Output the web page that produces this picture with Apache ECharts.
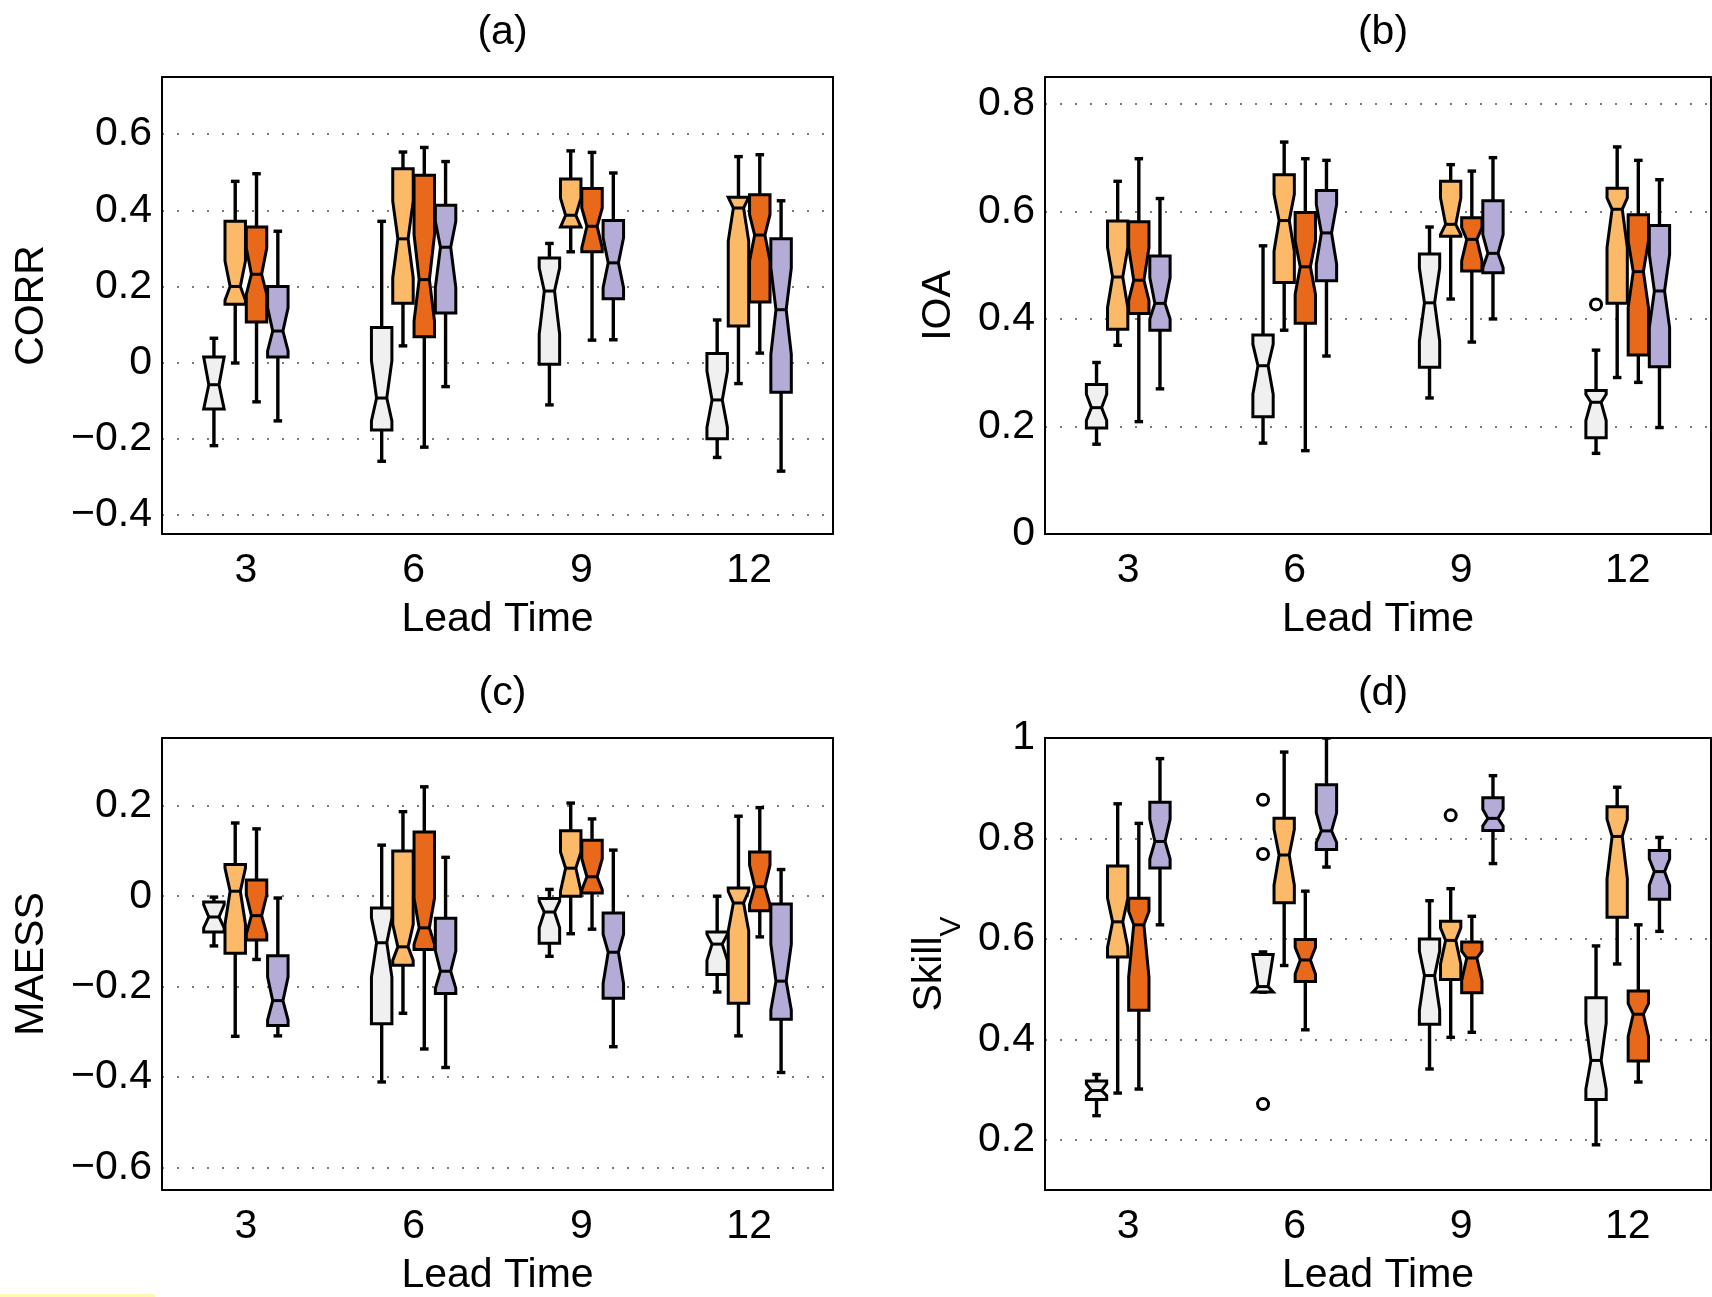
<!DOCTYPE html>
<html>
<head>
<meta charset="utf-8">
<script src="https://cdn.jsdelivr.net/npm/echarts@6/dist/echarts.min.js"></script>
<style>
  html, body { margin: 0; padding: 0; background: #fff; }
  #chart { width: 1712px; height: 1297px; }
</style>
</head>
<body>
<div id="chart"></div>
<script>
const leadTimes = ['3', '6', '9', '12']

// each row: [whiskerLow, q1, notchLow, median, notchHigh, q3, whiskerHigh]
const corrWhite = [[-0.218, -0.122, -0.122, -0.058, 0.015, 0.015, 0.064], [-0.259, -0.177, -0.153, -0.093, 0.005, 0.092, 0.371], [-0.111, -0.004, 0.074, 0.188, 0.249, 0.275, 0.313], [-0.249, -0.2, -0.17, -0.098, -0.022, 0.024, 0.112]]
const corrLight = [[-0.001, 0.153, 0.164, 0.2, 0.267, 0.371, 0.476], [0.044, 0.156, 0.223, 0.325, 0.424, 0.509, 0.553], [0.291, 0.356, 0.356, 0.387, 0.432, 0.482, 0.556], [-0.055, 0.096, 0.319, 0.406, 0.434, 0.434, 0.541]]
const corrDark = [[-0.103, 0.107, 0.179, 0.232, 0.301, 0.356, 0.496], [-0.222, 0.068, 0.109, 0.218, 0.336, 0.492, 0.565], [0.059, 0.291, 0.301, 0.358, 0.406, 0.457, 0.552], [0.025, 0.159, 0.267, 0.335, 0.389, 0.441, 0.546]]
const corrLav = [[-0.153, 0.015, 0.031, 0.083, 0.144, 0.2, 0.345], [-0.063, 0.13, 0.197, 0.303, 0.371, 0.413, 0.528], [0.06, 0.168, 0.197, 0.262, 0.328, 0.373, 0.498], [-0.285, -0.078, 0.022, 0.139, 0.249, 0.325, 0.425]]

const ioaWhite = [[0.167, 0.197, 0.211, 0.235, 0.26, 0.278, 0.319], [0.169, 0.218, 0.26, 0.313, 0.353, 0.37, 0.536], [0.253, 0.31, 0.359, 0.43, 0.495, 0.521, 0.571], [0.15, 0.179, 0.211, 0.245, 0.26, 0.267, 0.342]]
const ioaLight = [[0.351, 0.381, 0.421, 0.478, 0.533, 0.582, 0.656], [0.379, 0.468, 0.526, 0.583, 0.632, 0.668, 0.729], [0.437, 0.554, 0.557, 0.576, 0.625, 0.656, 0.687], [0.291, 0.429, 0.533, 0.604, 0.625, 0.643, 0.72]]
const ioaDark = [[0.209, 0.41, 0.434, 0.472, 0.533, 0.581, 0.698], [0.155, 0.392, 0.446, 0.497, 0.545, 0.598, 0.698], [0.357, 0.489, 0.508, 0.548, 0.57, 0.588, 0.675], [0.282, 0.333, 0.421, 0.488, 0.545, 0.594, 0.695]]
const ioaLav = [[0.27, 0.379, 0.4, 0.429, 0.477, 0.517, 0.624], [0.331, 0.471, 0.502, 0.56, 0.613, 0.639, 0.695], [0.4, 0.486, 0.495, 0.522, 0.557, 0.62, 0.7], [0.198, 0.311, 0.384, 0.452, 0.52, 0.574, 0.659]]

const maessWhite = [[-0.11, -0.079, -0.07, -0.046, -0.019, -0.013, -0.002], [-0.411, -0.282, -0.179, -0.103, -0.048, -0.026, 0.113], [-0.133, -0.104, -0.07, -0.035, -0.011, -0.005, 0.015], [-0.212, -0.173, -0.142, -0.106, -0.084, -0.079, 0]]
const maessLight = [[-0.31, -0.126, -0.062, 0.011, 0.062, 0.07, 0.162], [-0.259, -0.153, -0.142, -0.112, -0.062, 0.1, 0.187], [-0.083, 0, 0.011, 0.062, 0.098, 0.145, 0.206], [-0.309, -0.237, -0.077, -0.015, 0.011, 0.018, 0.177]]
const maessDark = [[-0.14, -0.097, -0.084, -0.043, 0.003, 0.036, 0.149], [-0.338, -0.118, -0.106, -0.07, -0.004, 0.142, 0.242], [-0.073, 0.007, 0.014, 0.043, 0.083, 0.124, 0.171], [-0.09, -0.032, -0.019, 0.021, 0.069, 0.098, 0.196]]
const maessLav = [[-0.309, -0.286, -0.274, -0.231, -0.179, -0.132, -0.004], [-0.379, -0.215, -0.204, -0.166, -0.121, -0.049, 0.086], [-0.333, -0.226, -0.193, -0.124, -0.084, -0.037, 0.102], [-0.39, -0.272, -0.252, -0.188, -0.106, -0.017, 0.059]]

const skillWhite = [[0.248, 0.28, 0.288, 0.298, 0.311, 0.317, 0.33], [0.494, 0.494, 0.494, 0.505, 0.569, 0.569, 0.574], [0.341, 0.43, 0.458, 0.527, 0.576, 0.6, 0.676], [0.19, 0.28, 0.301, 0.358, 0.432, 0.483, 0.586]]
const skillLight = [[0.293, 0.564, 0.583, 0.634, 0.681, 0.745, 0.869], [0.547, 0.672, 0.707, 0.767, 0.818, 0.84, 0.972], [0.404, 0.519, 0.55, 0.597, 0.622, 0.635, 0.7], [0.55, 0.643, 0.72, 0.804, 0.838, 0.863, 0.902]]
const skillDark = [[0.301, 0.458, 0.524, 0.628, 0.655, 0.681, 0.83], [0.419, 0.515, 0.53, 0.558, 0.583, 0.599, 0.695], [0.414, 0.493, 0.517, 0.562, 0.576, 0.594, 0.645], [0.315, 0.357, 0.406, 0.45, 0.471, 0.496, 0.628]]
const skillLav = [[0.628, 0.741, 0.759, 0.794, 0.838, 0.872, 0.959], [0.743, 0.778, 0.792, 0.815, 0.851, 0.907, 1.0], [0.75, 0.816, 0.825, 0.84, 0.858, 0.881, 0.925], [0.615, 0.679, 0.707, 0.734, 0.759, 0.776, 0.802]]

// outliers: [lead time index, box index, value]
const ioaOutliers = [[3, 0, 0.427]]
const skillOutliers = [[1, 0, 0.877], [1, 0, 0.769], [1, 0, 0.271], [2, 1, 0.846]]

const boxColors = ['#f0f0f0', '#fcba68', '#e8691a', '#b4acd6']
const FONT = 'Liberation Sans, Arial, sans-serif'
const SPACING = 0.127 // box step as a share of the category band
const BOX_W = 0.122

const panels = [
  { title: '(a)', name: 'CORR', boxes: [corrWhite, corrLight, corrDark, corrLav], outliers: [], min: -0.45, max: 0.75, left: 162, top: 77, nameGap: 110, hideMin: true, hideMax: true },
  { title: '(b)', name: 'IOA', boxes: [ioaWhite, ioaLight, ioaDark, ioaLav], outliers: ioaOutliers, min: 0, max: 0.85, left: 1045, top: 77, nameGap: 86, hideMin: false, hideMax: true },
  { title: '(c)', name: 'MAESS', boxes: [maessWhite, maessLight, maessDark, maessLav], outliers: [], min: -0.65, max: 0.35, left: 162, top: 738, nameGap: 110, hideMin: true, hideMax: true },
  { title: '(d)', name: '{s|Skill}{v|V}', boxes: [skillWhite, skillLight, skillDark, skillLav], outliers: skillOutliers, min: 0.1, max: 1.0, left: 1045, top: 738, nameGap: 78, hideMin: true, hideMax: false }
]
const widths = [671, 666, 671, 666]

function boxRenderer(k) {
  return function (params, api) {
    const idx = api.value(0)
    const band = api.size([1, 0])[0]
    const cx = api.coord([idx, 0])[0] + (k - 1.5) * band * SPACING
    const w = band * BOX_W
    const y = (i) => api.coord([idx, api.value(i)])[1]
    const wLo = y(1), q1 = y(2), nLo = y(3), med = y(4), nHi = y(5), q3 = y(6), wHi = y(7)
    const l = cx - w / 2, r = cx + w / 2, ind = w * 0.25, cap = w * 0.42
    const stroke = { stroke: '#000', lineWidth: 3.4 }
    return {
      type: 'group',
      children: [
        { type: 'line', shape: { x1: cx, y1: q3, x2: cx, y2: wHi }, style: stroke },
        { type: 'line', shape: { x1: cx - cap / 2, y1: wHi, x2: cx + cap / 2, y2: wHi }, style: stroke },
        { type: 'line', shape: { x1: cx, y1: q1, x2: cx, y2: wLo }, style: stroke },
        { type: 'line', shape: { x1: cx - cap / 2, y1: wLo, x2: cx + cap / 2, y2: wLo }, style: stroke },
        {
          type: 'polygon',
          shape: { points: [[l, q1], [l, nLo], [l + ind, med], [l, nHi], [l, q3], [r, q3], [r, nHi], [r - ind, med], [r, nLo], [r, q1]] },
          style: { fill: boxColors[k], stroke: '#000', lineWidth: 3, lineJoin: 'miter' }
        },
        { type: 'line', shape: { x1: l + ind, y1: med, x2: r - ind, y2: med }, style: { stroke: '#000', lineWidth: 3 } }
      ]
    }
  }
}

function outlierRenderer(params, api) {
  const idx = api.value(0)
  const band = api.size([1, 0])[0]
  const cx = api.coord([idx, 0])[0] + (api.value(1) - 1.5) * band * SPACING
  const cy = api.coord([idx, api.value(2)])[1]
  return { type: 'circle', shape: { cx: cx, cy: cy, r: 5.5 }, style: { fill: '#fff', stroke: '#000', lineWidth: 3 } }
}

function fmt(v) {
  const a = Math.abs(+(+v).toFixed(2))
  return (v < 0 ? '\u2212' : '') + a
}

const grid = [], xAxis = [], yAxis = [], series = [], title = []
const tick = { inside: true, length: 7, lineStyle: { color: '#000', width: 1.5 } }
const line = { show: true, onZero: false, lineStyle: { color: '#000', width: 2 } }
const nameStyle = { fontSize: 41, color: '#000', fontFamily: FONT }

panels.forEach((p, i) => {
  grid.push({ left: p.left, top: p.top, width: widths[i], height: 457, containLabel: false })
  title.push({
    text: p.title, left: p.left + widths[i] / 2, top: p.top - 70, textAlign: 'center',
    textStyle: { fontSize: 41, fontWeight: 'normal', color: '#000', fontFamily: FONT }
  })
  xAxis.push({
    gridIndex: i, type: 'category', data: leadTimes, boundaryGap: true,
    axisLine: line, axisTick: Object.assign({ alignWithLabel: true }, tick),
    axisLabel: { fontSize: 41, color: '#000', margin: 16, fontFamily: FONT },
    name: 'Lead Time', nameLocation: 'middle', nameGap: 65, nameTextStyle: nameStyle
  })
  xAxis.push({
    gridIndex: i, type: 'category', data: leadTimes, boundaryGap: true, position: 'top',
    axisLine: line, axisTick: Object.assign({ alignWithLabel: true }, tick), axisLabel: { show: false }
  })
  yAxis.push({
    gridIndex: i, type: 'value', min: p.min, max: p.max,
    axisLine: line, axisTick: tick,
    axisLabel: { fontSize: 41, color: '#000', margin: 10, fontFamily: FONT, formatter: fmt, showMinLabel: !p.hideMin, showMaxLabel: !p.hideMax },
    splitLine: { show: true, lineStyle: { color: '#7a7a7a', width: 1.8, type: [2, 13] } },
    name: p.name, nameLocation: 'middle', nameGap: p.nameGap,
    nameTextStyle: Object.assign({}, nameStyle, {
      rich: {
        s: { fontSize: 41, lineHeight: 41, verticalAlign: 'top', color: '#000', fontFamily: FONT },
        v: { fontSize: 30, lineHeight: 58, verticalAlign: 'bottom', color: '#000', fontFamily: FONT }
      }
    })
  })
  yAxis.push({
    gridIndex: i, type: 'value', min: p.min, max: p.max, position: 'right',
    axisLine: line, axisTick: tick, axisLabel: { show: false }, splitLine: { show: false }
  })
  p.boxes.forEach((rows, k) => {
    series.push({
      type: 'custom', xAxisIndex: 2 * i, yAxisIndex: 2 * i,
      renderItem: boxRenderer(k), clip: true,
      encode: { x: 0, y: [1, 2, 3, 4, 5, 6, 7] },
      data: rows.map((r, g) => [g].concat(r))
    })
  })
  if (p.outliers.length) {
    series.push({
      type: 'custom', xAxisIndex: 2 * i, yAxisIndex: 2 * i,
      renderItem: outlierRenderer, encode: { x: 0, y: 2 },
      data: p.outliers
    })
  }
})

const chart = echarts.init(document.getElementById('chart'))
chart.setOption({
  backgroundColor: '#fff',
  animation: false,
  title: title,
  grid: grid,
  xAxis: xAxis,
  yAxis: yAxis,
  series: series,
  graphic: [{ type: 'rect', shape: { x: 0, y: 1294, width: 155, height: 3 }, style: { fill: '#fff8b0' } }]
})
</script>
</body>
</html>
